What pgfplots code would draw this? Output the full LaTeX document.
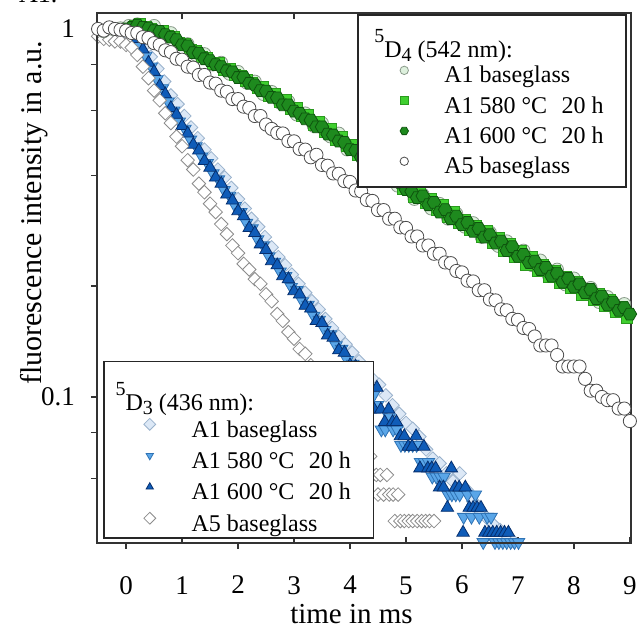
\documentclass[border=0pt]{standalone}
\usepackage{fontspec}
\setmainfont{Liberation Serif}
\usepackage{pgfplots}
\pgfplotsset{compat=1.18}
\definecolor{palegreen}{HTML}{DDF0DD}
\definecolor{palegreenedge}{HTML}{8A9A8A}
\definecolor{brightgreen}{HTML}{3FCF2F}
\definecolor{brightgreenedge}{HTML}{2A9A1E}
\definecolor{darkgreen}{HTML}{1E8A1E}
\definecolor{darkgreenedge}{HTML}{0E550E}
\definecolor{paleblue}{HTML}{DCE8F6}
\definecolor{paleblueedge}{HTML}{9AB2CC}
\definecolor{lightblue}{HTML}{5AA6E8}
\definecolor{lightblueedge}{HTML}{2F73B5}
\definecolor{darkblue}{HTML}{0F5CB8}
\definecolor{darkblueedge}{HTML}{062F6E}
\pgfdeclareplotmark{hexagon*}{%
  \pgfpathmoveto{\pgfqpointpolar{0}{\pgfplotmarksize}}%
  \pgfpathlineto{\pgfqpointpolar{60}{\pgfplotmarksize}}%
  \pgfpathlineto{\pgfqpointpolar{120}{\pgfplotmarksize}}%
  \pgfpathlineto{\pgfqpointpolar{180}{\pgfplotmarksize}}%
  \pgfpathlineto{\pgfqpointpolar{240}{\pgfplotmarksize}}%
  \pgfpathlineto{\pgfqpointpolar{300}{\pgfplotmarksize}}%
  \pgfpathclose
  \pgfusepathqfillstroke}
% #1 sup, #2 sub, #3 nm, #4 row height, #5 lowering, #6 left shift
\newcommand{\ttl}[6]{\rule{0pt}{#4}\hspace*{-#6}\raisebox{-#5}{\raisebox{7.5pt}{\fontsize{10}{12}\selectfont #1}D\raisebox{-2pt}{\fontsize{10}{12}\selectfont #2} (#3 nm):}}
\newcommand{\ent}[1]{\rule{0pt}{10pt}#1}
\begin{document}
\begin{tikzpicture}
% ---------------- 5D3 (436 nm) ----------------
\begin{axis}[
  scale only axis, width=267pt, height=265pt,
  xmin=-0.52, xmax=9.02, ymode=log, ymin=0.0401, ymax=1.105,
  axis line style={line width=0.8pt, black!80},
  tick style={line width=0.8pt, black!80},
  major tick length=3pt, minor tick length=3pt,
  legend cell align=left,
  legend image code/.code={\draw[mark repeat=2,mark phase=2,#1] plot coordinates {(0pt,3pt) (11.7pt,3pt) (23.4pt,3pt)};},
  legend image post style={mark size=2.1pt},
  xtick={0,2,4,6,8}, extra x ticks={1,3,5,7,9},
  extra x tick style={tick align=inside, tick label style={yshift=-3.5pt}},
  xtick pos=bottom, ytick pos=left, tick align=outside,
  ytick={0.1,1}, yticklabels={0.1,1}, minor ytick={0.06,0.08,0.2,0.4,0.6,0.8},
  tick label style={font=\fontsize{13.5}{16}\selectfont},
  /pgf/number format/assume math mode=true,
  xticklabel shift=10pt,
  yticklabel shift=4.5pt,
  xlabel={time in ms}, ylabel={fluorescence intensity in a.u.},
  xlabel style={font=\fontsize{14.5}{17}\selectfont, at={(axis description cs:0.4766,-0.151)}, anchor=base},
  ylabel style={font=\fontsize{15}{18}\selectfont, at={(axis description cs:-0.104,0.623)}, anchor=base},
  legend style={draw=black!85, line width=0.8pt, fill=white,
    font=\fontsize{12}{14}\selectfont,
    inner xsep=11.3pt, inner ysep=0.5pt, column sep=17.9pt, row sep=2.65pt,
    nodes={inner sep=0pt, text depth=3pt},
    at={(0.0112,0.0075)}, anchor=south west},
]
\addlegendimage{empty legend}
\addlegendentry{\ttl{5}{3}{436}{21.85pt}{2.15pt}{38pt}}
% A1 baseglass (pale diamonds)
\addplot[only marks, mark=square*, mark size=2.4pt, mark options={rotate=45, fill=paleblue, draw=paleblueedge, line width=0.4pt}] coordinates {
(-0.40,0.97)(-0.28,0.975)(-0.16,0.98)(-0.04,0.985)(0.08,0.98)(0.20,0.96)(0.32,0.90)(0.44,0.84)(0.56,0.78)(0.68,0.72)(0.80,0.66)(0.92,0.625)(1.04,0.58)(1.16,0.54)(1.28,0.505)(1.40,0.47)(1.52,0.445)(1.64,0.415)(1.76,0.395)(1.88,0.37)(2.00,0.345)(2.12,0.325)(2.24,0.305)(2.36,0.29)(2.48,0.272)(2.60,0.255)(2.72,0.24)(2.84,0.228)(2.96,0.215)(3.08,0.203)(3.20,0.192)(3.32,0.182)(3.44,0.173)(3.56,0.163)(3.68,0.154)(3.80,0.146)(3.92,0.139)(4.04,0.132)(4.16,0.125)(4.28,0.118)(4.40,0.112)(4.52,0.108)(4.64,0.101)(4.76,0.095)(4.88,0.09)(5.00,0.085)(5.12,0.082)(5.24,0.078)(5.36,0.072)(5.48,0.068)(5.60,0.066)(5.72,0.062)(5.84,0.059)(5.96,0.062)(6.08,0.056)(6.20,0.052)(6.32,0.049)(6.44,0.047)(6.56,0.045)(6.68,0.0435)(6.80,0.042)(6.92,0.0405)
};
\addlegendentry{\ent{A1 baseglass}}
% A1 580 C 20 h (light blue down triangles)
\addplot[only marks, mark=triangle*, mark size=3.6pt, mark options={rotate=180, fill=lightblue, draw=lightblueedge, line width=0.4pt}] coordinates {
(0.05,0.99)(0.15,0.965)(0.25,0.90)(0.35,0.845)(0.45,0.79)(0.55,0.73)(0.65,0.69)(0.75,0.635)(0.85,0.60)(0.95,0.56)(1.05,0.535)(1.15,0.50)(1.25,0.48)(1.35,0.45)(1.45,0.432)(1.55,0.405)(1.65,0.39)(1.75,0.365)(1.85,0.352)(1.95,0.33)(2.05,0.318)(2.15,0.297)(2.25,0.287)(2.35,0.268)(2.45,0.258)(2.55,0.241)(2.65,0.233)(2.75,0.219)(2.85,0.213)(2.95,0.199)(3.05,0.195)(3.15,0.182)(3.25,0.178)(3.35,0.166)(3.45,0.162)(3.55,0.152)(3.65,0.148)(3.75,0.138)(3.85,0.135)(3.95,0.126)(4.05,0.123)(4.15,0.116)(4.25,0.113)
(4.36,0.101)(4.42,0.101)(4.49,0.095)(4.56,0.0815)(4.63,0.0815)(4.70,0.088)(4.77,0.0815)(4.84,0.0815)(4.91,0.074)(4.98,0.074)(5.05,0.074)(5.12,0.074)(5.19,0.074)(5.26,0.0665)(5.33,0.0665)(5.40,0.0665)(5.47,0.0607)(5.54,0.0607)(5.61,0.0607)(5.68,0.0607)(5.75,0.0543)(5.82,0.0543)(5.89,0.0543)(5.96,0.0543)(6.03,0.0472)(6.10,0.0543)(6.17,0.0472)(6.24,0.0543)(6.31,0.0472)(6.38,0.0403)(6.45,0.0472)(6.52,0.0472)(6.59,0.0403)(6.66,0.0403)(6.73,0.0403)(6.80,0.0403)(6.87,0.0403)(6.94,0.0403)(7.01,0.0403)
};
\addlegendentry{\ent{A1 580 °C\hspace{0.6em}20 h}}
% A1 600 C 20 h (dark blue up triangles)
\addplot[only marks, mark=triangle*, mark size=3.6pt, mark options={fill=darkblue, draw=darkblueedge, line width=0.4pt}] coordinates {
(0.0,0.99)(0.1,0.985)(0.2,0.94)(0.3,0.88)(0.4,0.81)(0.5,0.765)(0.6,0.70)(0.7,0.665)(0.8,0.61)(0.9,0.585)(1.0,0.545)(1.1,0.52)(1.2,0.485)(1.3,0.468)(1.4,0.438)(1.5,0.42)(1.6,0.395)(1.7,0.38)(1.8,0.355)(1.9,0.342)(2.0,0.32)(2.1,0.31)(2.2,0.288)(2.3,0.279)(2.4,0.26)(2.5,0.251)(2.6,0.234)(2.7,0.228)(2.8,0.213)(2.9,0.209)(3.0,0.194)(3.1,0.19)(3.2,0.177)(3.3,0.174)(3.4,0.161)(3.5,0.159)(3.6,0.147)(3.7,0.145)(3.8,0.134)(3.9,0.132)(4.0,0.122)(4.1,0.121)(4.2,0.113)(4.3,0.111)
(4.36,0.0925)(4.43,0.0925)(4.48,0.106)(4.55,0.0925)(4.62,0.0855)(4.69,0.0925)(4.76,0.0855)(4.83,0.0855)(4.90,0.0783)(4.97,0.0783)(5.04,0.0733)(5.11,0.0733)(5.18,0.0783)(5.25,0.064)(5.32,0.0733)(5.39,0.064)(5.46,0.064)(5.53,0.064)(5.60,0.0568)(5.67,0.0568)(5.74,0.050)(5.81,0.064)(5.88,0.0568)(5.95,0.0568)(6.02,0.0428)(6.06,0.0568)(6.13,0.050)(6.20,0.050)(6.27,0.050)(6.34,0.050)(6.41,0.0428)(6.48,0.0428)(6.55,0.0428)(6.62,0.0428)(6.69,0.0428)(6.76,0.0428)(6.83,0.0428)
};
\addlegendentry{\ent{A1 600 °C\hspace{0.6em}20 h}}
% A5 baseglass (white diamonds)
\addplot[only marks, mark=square*, mark size=2.4pt, mark options={rotate=45, fill=white, draw=black!45, line width=0.4pt}] coordinates {
(-0.5,0.955)(-0.4,0.94)(-0.3,0.935)(-0.2,0.925)(-0.1,0.925)(0.0,0.905)(0.1,0.89)(0.2,0.85)(0.3,0.79)(0.4,0.735)(0.5,0.68)(0.6,0.64)(0.7,0.59)(0.8,0.555)(0.9,0.51)(1.0,0.48)(1.1,0.44)(1.2,0.415)(1.3,0.38)(1.4,0.36)(1.5,0.335)(1.6,0.318)(1.7,0.295)(1.8,0.277)(1.9,0.258)(2.0,0.246)(2.1,0.23)(2.2,0.222)(2.3,0.209)(2.4,0.203)(2.5,0.19)(2.6,0.182)(2.7,0.168)(2.8,0.161)(2.9,0.15)(3.0,0.144)(3.1,0.135)(3.2,0.131)(3.3,0.122)(3.4,0.117)(3.5,0.11)(3.6,0.104)(3.7,0.098)(3.8,0.093)(3.9,0.088)(4.0,0.083)(4.1,0.078)(4.2,0.074)(4.3,0.071)
(4.36,0.069)(4.41,0.0614)(4.47,0.0614)(4.50,0.0543)(4.54,0.0614)(4.60,0.0543)(4.66,0.0614)(4.70,0.0543)(4.77,0.0543)(4.80,0.046)(4.86,0.0543)(4.90,0.046)(4.97,0.046)(5.05,0.046)(5.12,0.046)(5.20,0.046)(5.28,0.046)(5.35,0.046)(5.42,0.046)(5.50,0.046)
};
\addlegendentry{\ent{A5 baseglass}}
\end{axis}
% ---------------- 5D4 (542 nm) ----------------
\begin{axis}[
  scale only axis, width=267pt, height=265pt,
  xmin=-0.52, xmax=9.02, ymode=log, ymin=0.0401, ymax=1.105,
  axis line style={line width=0.8pt, black!80},
  tick style={line width=0.8pt, black!80},
  major tick length=3pt,
  legend cell align=left,
  legend image code/.code={\draw[mark repeat=2,mark phase=2,#1] plot coordinates {(0pt,3pt) (11.7pt,3pt) (23.4pt,3pt)};},
  legend image post style={mark size=2.1pt},
  xtick={1,3,5,7}, xticklabels={}, xtick pos=top, tick align=inside,
  ytick=\empty,
  legend style={draw=black!85, line width=0.8pt, fill=white,
    font=\fontsize{12}{14}\selectfont,
    inner xsep=11.3pt, inner ysep=3pt, column sep=17.9pt, row sep=1.65pt,
    nodes={inner sep=0pt, text depth=3.5pt},
    at={(0.9925,0.998)}, anchor=north east},
]
\addlegendimage{empty legend}
\addlegendentry{\ttl{5}{4}{542}{15.85pt}{2.65pt}{35pt}}
% A1 baseglass (pale green circles)
\addplot[only marks, mark=*, mark size=3.2pt, mark options={fill=palegreen, draw=palegreenedge, line width=0.4pt}] coordinates {
(-0.40,0.985)(-0.25,1.0)(-0.10,1.005)(0.05,1.02)(0.20,1.03)(0.35,1.0)(0.50,1.02)(0.65,0.965)(0.80,0.975)(0.95,0.91)(1.10,0.91)(1.25,0.85)(1.40,0.855)(1.55,0.80)(1.70,0.81)(1.85,0.755)(2.00,0.765)(2.15,0.715)(2.30,0.72)(2.45,0.665)(2.60,0.675)(2.75,0.63)(2.90,0.635)(3.05,0.585)(3.20,0.59)(3.35,0.545)(3.50,0.555)(3.65,0.51)(3.80,0.52)(3.95,0.47)(4.10,0.48)(4.25,0.435)(4.40,0.45)(4.55,0.405)(4.70,0.41)(4.85,0.375)(5.00,0.38)(5.15,0.345)(5.30,0.355)(5.45,0.325)(5.60,0.335)(5.75,0.305)(5.90,0.315)(6.05,0.29)(6.20,0.297)(6.35,0.272)(6.50,0.28)(6.65,0.257)(6.80,0.265)(6.95,0.242)(7.10,0.25)(7.25,0.228)(7.40,0.235)(7.55,0.214)(7.70,0.222)(7.85,0.202)(8.00,0.21)(8.15,0.193)(8.30,0.198)(8.45,0.181)(8.60,0.187)(8.75,0.171)(8.90,0.179)
};
\addlegendentry{\ent{A1 baseglass}}
% A1 580 C 20 h (green squares)
\addplot[only marks, mark=square*, mark size=2.8pt, mark options={fill=brightgreen, draw=brightgreenedge, line width=0.4pt}] coordinates {
(0.05,1.00)(0.15,1.02)(0.25,1.03)(0.35,1.01)(0.45,1.00)(0.55,0.985)(0.65,0.985)(0.75,0.955)(0.85,0.95)(0.95,0.915)(1.05,0.91)(1.15,0.875)(1.25,0.87)(1.35,0.84)(1.45,0.835)(1.55,0.805)(1.65,0.81)(1.75,0.775)(1.85,0.78)(1.95,0.75)(2.05,0.745)(2.15,0.725)(2.25,0.715)(2.35,0.69)(2.45,0.695)(2.55,0.66)(2.65,0.665)(2.75,0.635)(2.85,0.64)(2.95,0.605)(3.05,0.61)(3.15,0.58)(3.25,0.585)(3.35,0.55)(3.45,0.56)(3.55,0.525)(3.65,0.535)(3.75,0.50)(3.85,0.51)(3.95,0.48)(4.05,0.485)(4.15,0.455)(4.25,0.462)(4.35,0.435)(4.45,0.44)(4.55,0.41)(4.65,0.42)(4.75,0.39)(4.85,0.398)(4.95,0.368)(5.05,0.377)(5.15,0.35)(5.25,0.36)(5.35,0.338)(5.45,0.345)(5.55,0.323)(5.65,0.333)(5.75,0.308)(5.85,0.318)(5.95,0.298)(6.05,0.302)(6.15,0.285)(6.25,0.292)(6.35,0.273)(6.45,0.282)(6.55,0.262)(6.65,0.271)(6.75,0.25)(6.85,0.26)(6.95,0.24)(7.05,0.25)(7.15,0.229)(7.25,0.24)(7.35,0.22)(7.45,0.228)(7.55,0.212)(7.65,0.22)(7.75,0.204)(7.85,0.212)(7.95,0.198)(8.05,0.205)(8.15,0.19)(8.25,0.197)(8.35,0.184)(8.45,0.19)(8.55,0.177)(8.65,0.183)(8.75,0.17)(8.85,0.176)(8.95,0.164)
};
\addlegendentry{\ent{A1 580 °C\hspace{0.6em}20 h}}
% A1 600 C 20 h (dark green hexagons)
\addplot[only marks, mark=hexagon*, mark size=3.4pt, mark options={fill=darkgreen, draw=darkgreenedge, line width=0.4pt}] coordinates {
(0.0,1.00)(0.1,1.01)(0.2,1.025)(0.3,1.01)(0.4,1.005)(0.5,0.99)(0.6,0.985)(0.7,0.965)(0.8,0.95)(0.9,0.935)(1.0,0.905)(1.1,0.9)(1.2,0.862)(1.3,0.86)(1.4,0.83)(1.5,0.82)(1.6,0.8)(1.7,0.79)(1.8,0.77)(1.9,0.765)(2.0,0.738)(2.1,0.74)(2.2,0.712)(2.3,0.705)(2.4,0.68)(2.5,0.678)(2.6,0.652)(2.7,0.65)(2.8,0.622)(2.9,0.622)(3.0,0.598)(3.1,0.59)(3.2,0.57)(3.3,0.565)(3.4,0.542)(3.5,0.542)(3.6,0.518)(3.7,0.515)(3.8,0.496)(3.9,0.492)(4.0,0.47)(4.1,0.468)(4.2,0.448)(4.3,0.445)(4.4,0.428)(4.5,0.425)(4.6,0.406)(4.7,0.402)(4.8,0.386)(4.9,0.382)(5.0,0.366)(5.1,0.362)(5.2,0.348)(5.3,0.352)(5.4,0.333)(5.5,0.338)(5.6,0.318)(5.7,0.323)(5.8,0.305)(5.9,0.31)(6.0,0.294)(6.1,0.298)(6.2,0.282)(6.3,0.287)(6.4,0.272)(6.5,0.276)(6.6,0.262)(6.7,0.265)(6.8,0.25)(6.9,0.256)(7.0,0.241)(7.1,0.244)(7.2,0.232)(7.3,0.234)(7.4,0.222)(7.5,0.225)(7.6,0.213)(7.7,0.217)(7.8,0.205)(7.9,0.21)(8.0,0.199)(8.1,0.203)(8.2,0.192)(8.3,0.196)(8.4,0.185)(8.5,0.188)(8.6,0.178)(8.7,0.181)(8.8,0.172)(8.9,0.175)(9.0,0.168)
};
\addlegendentry{\ent{A1 600 °C\hspace{0.6em}20 h}}
% A5 baseglass (white circles)
\addplot[only marks, mark=*, mark size=3.3pt, mark options={fill=white, draw=black!70, line width=0.4pt}] coordinates {
(-0.5,1.00)(-0.4,0.99)(-0.3,1.01)(-0.2,1.0)(-0.1,0.995)(0.0,0.99)(0.1,0.975)(0.2,0.975)(0.3,0.95)(0.4,0.945)(0.5,0.915)(0.6,0.905)(0.7,0.875)(0.8,0.865)(0.9,0.83)(1.0,0.825)(1.1,0.79)(1.2,0.785)(1.3,0.75)(1.4,0.75)(1.5,0.715)(1.6,0.71)(1.7,0.68)(1.8,0.675)(1.9,0.645)(2.0,0.645)(2.1,0.615)(2.2,0.61)(2.3,0.58)(2.4,0.58)(2.5,0.55)(2.6,0.535)(2.7,0.522)(2.8,0.52)(2.9,0.496)(3.0,0.495)(3.1,0.472)(3.2,0.47)(3.3,0.448)(3.4,0.455)(3.5,0.427)(3.6,0.425)(3.7,0.405)(3.8,0.404)(3.9,0.386)(4.0,0.384)(4.1,0.364)(4.2,0.362)(4.3,0.343)(4.4,0.341)(4.5,0.322)(4.6,0.322)(4.7,0.305)(4.8,0.305)(4.9,0.289)(5.0,0.288)(5.1,0.273)(5.2,0.273)(5.3,0.258)(5.4,0.258)(5.5,0.245)(5.6,0.245)(5.7,0.232)(5.8,0.231)(5.9,0.22)(6.0,0.218)(6.1,0.207)(6.2,0.206)(6.3,0.195)(6.4,0.195)(6.5,0.184)(6.6,0.183)(6.7,0.173)(6.8,0.172)(6.9,0.163)(7.0,0.162)(7.1,0.154)(7.2,0.153)(7.3,0.146)(7.4,0.138)(7.5,0.138)(7.6,0.138)(7.7,0.130)(7.8,0.121)(7.9,0.121)(8.0,0.121)(8.1,0.121)(8.2,0.112)(8.3,0.104)(8.4,0.104)(8.5,0.100)(8.6,0.098)(8.7,0.098)(8.8,0.093)(8.9,0.093)(9.0,0.086)
};
\addlegendentry{\ent{A5 baseglass}}
\end{axis}
\node[anchor=base west, font=\fontsize{13}{15}\selectfont] at (-42.5pt,270pt) {A1.};
\pgfresetboundingbox
\path[use as bounding box] (-48.5pt,-42pt) rectangle (270.5pt,271.5pt);
\end{tikzpicture}
\end{document}
